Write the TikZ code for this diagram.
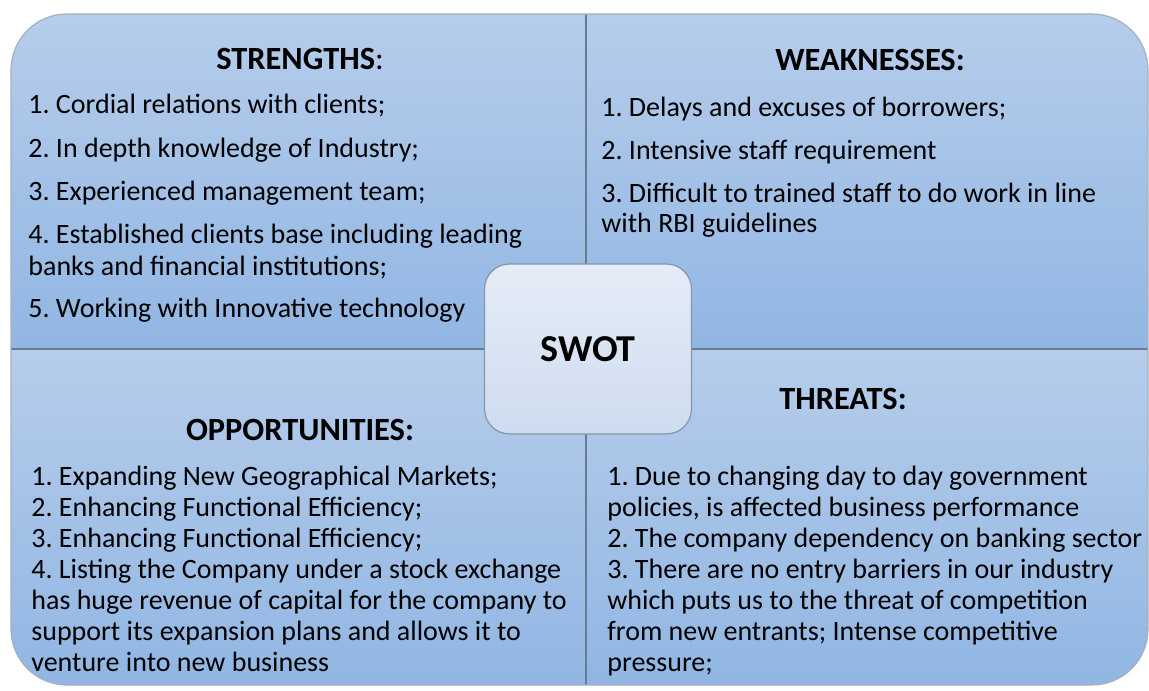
\documentclass[tikz,border=0pt]{standalone}
\usepackage{fontspec}
\setmainfont{Carlito}
\frenchspacing
\definecolor{quadtop}{RGB}{182,205,235}
\definecolor{quadbottom}{RGB}{145,182,227}
\definecolor{boxtop}{RGB}{229,236,247}
\definecolor{boxbottom}{RGB}{206,220,240}
\definecolor{edgegray}{RGB}{105,122,145}
\tikzstyle{quadrant}=[top color=quadtop,bottom color=quadbottom]
\tikzstyle{divider}=[draw=edgegray,line width=0.6pt]
\tikzstyle{quadhead}=[font=\fontsize{16.2}{19}\selectfont\bfseries,anchor=base,inner sep=0pt]
\tikzstyle{itemtext}=[font=\fontsize{14}{15.5}\selectfont\frenchspacing,anchor=base west,inner sep=0pt]
\tikzstyle{swotbox}=[draw=edgegray!80,line width=0.6pt,rounded corners=12.5pt,top color=boxtop,bottom color=boxbottom,minimum width=103.5pt,minimum height=85pt,font=\fontsize{19}{22}\selectfont\bfseries]
\begin{document}
\begin{tikzpicture}[x=0.5pt,y=-0.5pt]
		\useasboundingbox (0,0) rectangle (1149,690);
		\begin{scope}
			\clip[rounded corners=28pt] (11,14) rectangle (1148,685);
			\shade[quadrant] (11,14) rectangle (586,349);
			\shade[quadrant] (586,14) rectangle (1148,349);
			\shade[quadrant] (11,349) rectangle (586,685);
			\shade[quadrant] (586,349) rectangle (1148,685);
		\end{scope}
		\draw[divider] (586,14) -- (586,685);
		\draw[divider] (11,349) -- (1148,349);
		\draw[divider,draw=edgegray!60,rounded corners=28pt] (11,14) rectangle (1148,685);
		\node[quadhead] (strengths) at (300,70) {STRENGTHS\mdseries:};
		\node[quadhead] (weaknesses) at (870,71) {WEAKNESSES:};
		\node[quadhead] (opportunities) at (300,440) {OPPORTUNITIES:};
		\node[quadhead] (threats) at (843,409) {THREATS:};
		\foreach \yy/\txt [count=\i] in {113/{1. Cordial relations with clients;},157/{2. In depth knowledge of Industry;},200/{3. Experienced management team;},243/{4. Established clients base including leading},275/{banks and financial institutions;},317/{5. Working with Innovative technology}}
			\node[itemtext] (s\i) at (28,\yy) {\txt};
		\foreach \yy/\txt [count=\i] in {116/{1. Delays and excuses of borrowers;},159/{2. Intensive staff requirement},202/{3. Difficult to trained staff to do work in line},232/{with RBI guidelines}}
			\node[itemtext] (w\i) at (601,\yy) {\txt};
		\foreach \yy/\txt [count=\i] in {485/{1. Expanding New Geographical Markets;},516/{2. Enhancing Functional Efficiency;},547/{3. Enhancing Functional Efficiency;},578/{4. Listing the Company under a stock exchange},609/{has huge revenue of capital for the company to},640/{support its expansion plans and allows it to},671/{venture into new business}}
			\node[itemtext] (o\i) at (31,\yy) {\txt};
		\foreach \yy/\txt [count=\i] in {485/{1. Due to changing day to day government},516/{policies, is affected business performance},547/{2. The company dependency on banking sector},578/{3. There are no entry barriers in our industry},609/{which puts us to the threat of competition},640/{from new entrants; Intense competitive},671/{pressure;}}
			\node[itemtext] (t\i) at (607,\yy) {\txt};
		\node[swotbox] (swot) at (588,349) {SWOT};
	\end{tikzpicture}
\end{document}
